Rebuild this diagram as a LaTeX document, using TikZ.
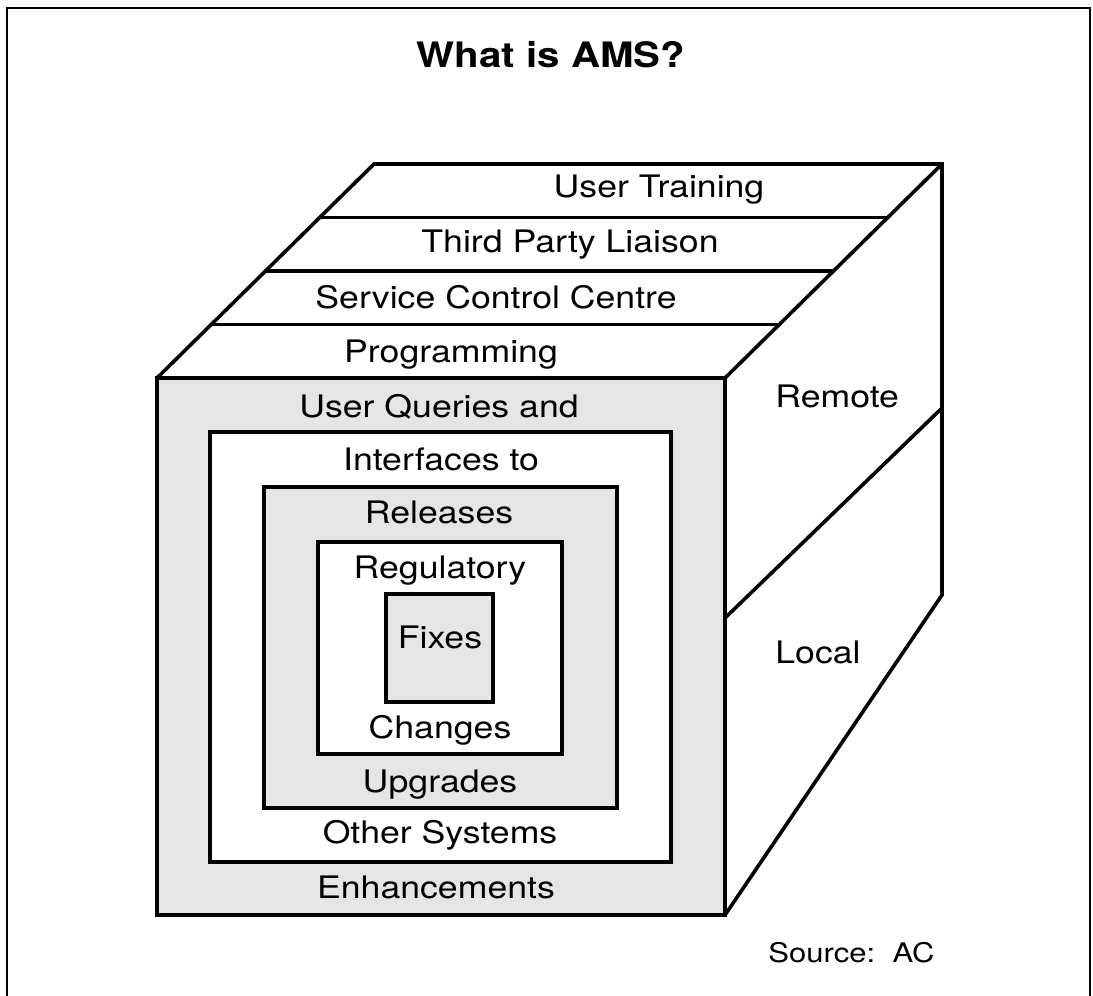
\documentclass[tikz,border=0pt]{standalone}
\usepackage{fontspec}
\setmainfont{TeX Gyre Heros}[FakeStretch=1.15]
\usetikzlibrary{calc}

\tikzset{
	edge/.style={line width=1.8pt, line join=miter},
	dotted face/.style={edge, fill=black!10},
	blank face/.style={edge, fill=white},
	lbl/.style={anchor=base, inner sep=0pt, font=\fontsize{15.5}{18}\selectfont},
}

\begin{document}
\begin{tikzpicture}[x=0.5pt,y=-0.5pt]
		\useasboundingbox (0,0) rectangle (1093,996);
		% frame
		\draw[line width=1pt] (7,1010) -- (7,8) -- (1090,8) -- (1090,1010);
		\node[anchor=base, inner sep=0pt, font=\bfseries\fontsize{17.5}{20}\selectfont] (title) at (551,67) {What is AMS?};
		% cube corners
		\coordinate (fa) at (157,378);
		\coordinate (fb) at (725,378);
		\coordinate (fc) at (725,915);
		\coordinate (fd) at (157,915);
		\coordinate (ba) at (374,164);
		\coordinate (bb) at (942,164);
		\coordinate (bc) at (942,595);
		\coordinate (mr) at (942,408);
		\coordinate (ml) at (725,618);
		% outline of top and side
		\draw[edge] (fa) -- (ba) -- (bb) -- (bc) -- (fc);
		\draw[edge] (fb) -- (bb);
		\foreach \t in {0.25,0.5,0.75}
			\draw[edge] ($(fa)!\t!(ba)$) -- ($(fb)!\t!(bb)$);
		\draw[edge] (ml) -- (mr);
		% front face
		\draw[dotted face] (fa) rectangle (fc);
		\draw[blank face] (210,432) rectangle (671,862);
		\draw[dotted face] (264,487) rectangle (617,808);
		\draw[blank face] (318,542) rectangle (562,754);
		\draw[dotted face] (386,594) rectangle (493,702);
		% top labels
		\node[lbl] (training) at (659,197) {User Training};
		\node[lbl] (liaison) at (570,252) {Third Party Liaison};
		\node[lbl] (centre) at (496,308) {Service Control Centre};
		\node[lbl] (prog) at (451,362) {Programming};
		% front labels
		\node[lbl] (queries) at (439,417) {User Queries and};
		\node[lbl] (iface) at (441,470) {Interfaces to};
		\node[lbl] (releases) at (439,523) {Releases};
		\node[lbl] (regul) at (440,578) {Regulatory};
		\node[lbl] (fixes) at (440,648) {Fixes};
		\node[lbl] (changes) at (440,738) {Changes};
		\node[lbl] (upgrades) at (440,792) {Upgrades};
		\node[lbl] (other) at (440,843) {Other Systems};
		\node[lbl] (enhance) at (436,898) {Enhancements};
		% side labels
		\node[lbl, anchor=base west] (remote) at (775,407) {Remote};
		\node[lbl, anchor=base west] (local) at (775,663) {Local};
		\node[anchor=base west, inner sep=0pt, font=\fontsize{13.5}{16}\selectfont] (source) at (768,962) {Source:\ \ AC};
\end{tikzpicture}
\end{document}
